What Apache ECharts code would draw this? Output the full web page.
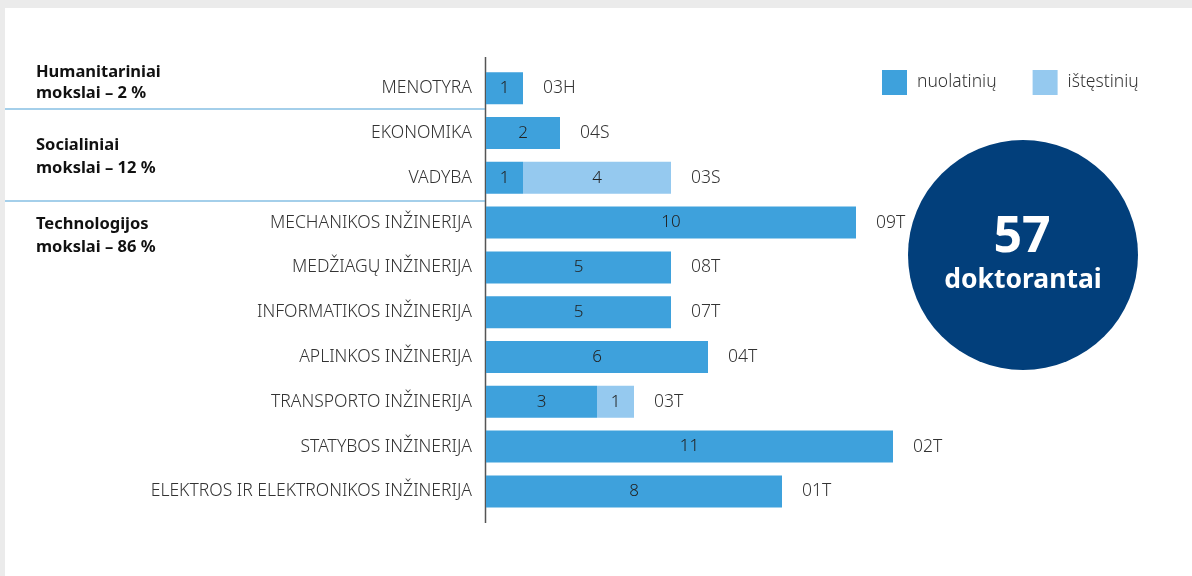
<!DOCTYPE html>
<html>
<head>
<meta charset="utf-8">
<script src="https://cdn.jsdelivr.net/npm/echarts@6/dist/echarts.min.js"></script>
<style>
  html, body { margin: 0; padding: 0; background: #ebebeb; }
  #chart { position: absolute; left: 5px; top: 8px; width: 1187px; height: 568px; background: #fff; }
</style>
</head>
<body>
<div id="chart"></div>
<script>
// kryptys (virsuje -> apacioje)
var categories = [
  'MENOTYRA', 'EKONOMIKA', 'VADYBA', 'MECHANIKOS INŽINERIJA', 'MEDŽIAGŲ INŽINERIJA',
  'INFORMATIKOS INŽINERIJA', 'APLINKOS INŽINERIJA', 'TRANSPORTO INŽINERIJA',
  'STATYBOS INŽINERIJA', 'ELEKTROS IR ELEKTRONIKOS INŽINERIJA'
];
var codes = ['03H', '04S', '03S', '09T', '08T', '07T', '04T', '03T', '02T', '01T'];
var nuolatiniu = [1, 2, 1, 10, 5, 5, 6, 3, 11, 8];
var istestiniu = [0, 0, 4, 0, 0, 0, 0, 1, 0, 0];
var total = 57;

var FONT = '"Noto Sans", "Open Sans", sans-serif';
var dark = '#3ea1dc';
var light = '#95c9ef';

var chart = echarts.init(document.getElementById('chart'));

function inLabel(p) { return p.value ? String(p.value) : ''; }

var option = {
  animation: false,
  textStyle: { fontFamily: FONT },
  legend: {
    data: ['nuolatinių', 'ištęstinių'],
    left: 877, top: 62, padding: 0,
    icon: 'rect', itemWidth: 25, itemHeight: 25, itemGap: 36,
    textStyle: { color: '#333', fontSize: 17.5, fontWeight: 300, fontFamily: FONT, padding: [0, 0, 0, 5] }
  },
  grid: { left: 481, top: 57.8, width: 444, height: 448 },
  xAxis: {
    type: 'value', min: 0, max: 12,
    show: false
  },
  yAxis: {
    type: 'category', data: categories, inverse: true,
    axisLine: { show: false }, axisTick: { show: false },
    axisLabel: { color: '#333', fontSize: 17.5, fontWeight: 300, fontFamily: FONT, margin: 14 }
  },
  series: [
    {
      name: 'nuolatinių', type: 'bar', stack: 'a', data: nuolatiniu,
      barWidth: 32, itemStyle: { color: dark },
      label: { show: true, position: 'inside', color: '#222', fontSize: 17, fontWeight: 300, fontFamily: FONT, formatter: inLabel }
    },
    {
      name: 'ištęstinių', type: 'bar', stack: 'a', data: istestiniu,
      barWidth: 32, itemStyle: { color: light },
      label: { show: true, position: 'inside', color: '#222', fontSize: 17, fontWeight: 300, fontFamily: FONT, formatter: inLabel }
    },
    {
      name: 'kodas', type: 'bar', stack: 'a', data: codes.map(function () { return 0; }),
      barWidth: 32, itemStyle: { color: 'transparent' }, silent: true,
      label: {
        show: true, position: 'right', distance: 20, color: '#333', fontSize: 17.5, fontWeight: 300, fontFamily: FONT,
        formatter: function (p) { return codes[p.dataIndex]; }
      }
    }
  ],
  graphic: [
    { type: 'line', shape: { x1: 480.5, y1: 49, x2: 480.5, y2: 515 }, style: { stroke: '#555', lineWidth: 1.5 } },
    { type: 'line', shape: { x1: 0, y1: 101, x2: 480, y2: 101 }, style: { stroke: '#4a9fd5', lineWidth: 1.2 } },
    { type: 'line', shape: { x1: 0, y1: 193, x2: 480, y2: 193 }, style: { stroke: '#4a9fd5', lineWidth: 1.2 } },
    { type: 'text', left: 31, top: 54, style: { text: 'Humanitariniai\nmokslai – 2 %', fill: '#111', font: 'bold 16.5px ' + FONT, lineHeight: 21 } },
    { type: 'text', left: 31, top: 126, style: { text: 'Socialiniai\nmokslai – 12 %', fill: '#111', font: 'bold 16.5px ' + FONT, lineHeight: 23 } },
    { type: 'text', left: 31, top: 205, style: { text: 'Technologijos\nmokslai – 86 %', fill: '#111', font: 'bold 16.5px ' + FONT, lineHeight: 23 } },
    { type: 'circle', shape: { cx: 1018, cy: 247, r: 115 }, style: { fill: '#023f7b' } },
    { type: 'text', x: 1017, y: 230, style: { text: String(total), fill: '#fff', font: 'bold 50px ' + FONT, align: 'center', verticalAlign: 'middle' } },
    { type: 'text', x: 1018, y: 272, style: { text: 'doktorantai', fill: '#fff', font: 'bold 26.5px ' + FONT, align: 'center', verticalAlign: 'middle' } }
  ]
};
chart.setOption(option);
</script>
</body>
</html>
